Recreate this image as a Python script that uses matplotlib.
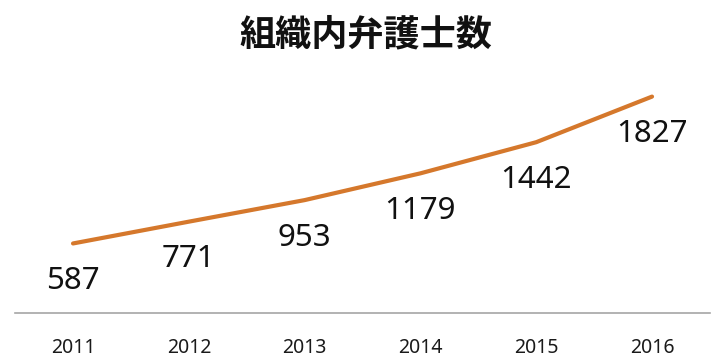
import matplotlib
matplotlib.use("Agg")
import matplotlib.pyplot as plt

plt.rcParams['font.family'] = ['Noto Sans', 'Noto Sans CJK JP', 'DejaVu Sans']

years = ['2011', '2012', '2013', '2014', '2015', '2016']
lawyers = [587, 771, 953, 1179, 1442, 1827]
title = '組織内弁護士数'

fig = plt.figure(figsize=(7.2, 3.6), dpi=100)
ax = fig.add_axes([0.021, 0.1306, 0.965, 0.658])

x = list(range(len(years)))
ax.plot(x, lawyers, color='#D5782C', linewidth=3, solid_capstyle='round')

# data labels below each point
for xi, v in zip(x, lawyers):
    ax.annotate(str(v), (xi, v), xytext=(0, -27), textcoords='offset points',
                ha='center', va='center', fontsize=22.5, color='#111111')

ax.set_xlim(-0.5, 5.5)
ax.set_ylim(0, 2000)
ax.set_xticks(x)
ax.set_xticklabels(years, fontsize=14, color='#1a1a1a')
ax.tick_params(axis='x', length=0, pad=18)
ax.set_yticks([])
for s in ['top', 'right', 'left']:
    ax.spines[s].set_visible(False)
ax.spines['bottom'].set_color('#A6A6A6')
ax.spines['bottom'].set_linewidth(1.2)

fig.text(0.508, 0.903, title, ha='center', va='center', fontsize=26,
         fontweight='bold', family=['Noto Sans CJK JP', 'DejaVu Sans'], color='#111111')

fig.savefig('out.png', dpi=100)
